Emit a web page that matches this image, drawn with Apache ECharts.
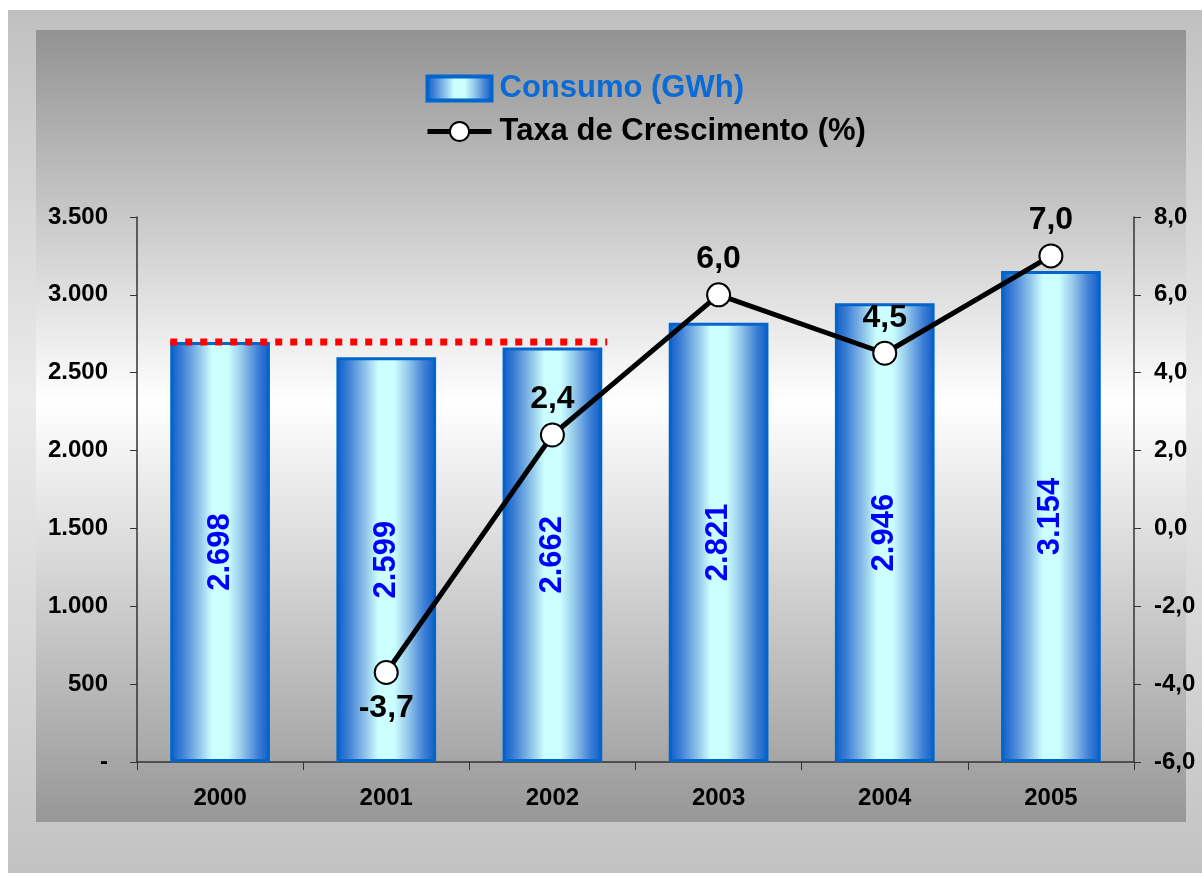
<!DOCTYPE html>
<html lang="pt">
<head>
    <meta charset="utf-8">
    <title>Consumo (GWh)</title>
    <script src="https://cdn.jsdelivr.net/npm/echarts@6/dist/echarts.min.js"></script>
    <style>
        html, body {margin: 0; padding: 0; background: #fff;}
        #chart {width: 1202px; height: 873px;}
    </style>
</head>
<body>
<div id="chart"></div>
<script>
    // dados
    let anos = ['2000', '2001', '2002', '2003', '2004', '2005'];
    let consumo = [2698, 2599, 2662, 2821, 2946, 3154];
    let taxa = [null, -3.7, 2.4, 6.0, 4.5, 7.0];
    let linhaRefX = [-0.3, 2.33];   // do início de 2000 ao fim de 2002
    let linhaRefValor = 2698;

    let myChart = echarts.init(document.getElementById('chart'));

    const fonte = '"Liberation Sans", Arial, sans-serif';
    let barGrad = new echarts.graphic.LinearGradient(0, 0, 1, 0, [
        {offset: 0, color: '#0a5ec8'},
        {offset: 0.12, color: '#3f7fd6'},
        {offset: 0.3, color: '#94c8ea'},
        {offset: 0.42, color: '#ccffff'},
        {offset: 0.58, color: '#ccffff'},
        {offset: 0.72, color: '#94c8ea'},
        {offset: 0.88, color: '#3f7fd6'},
        {offset: 1, color: '#0a5ec8'}
    ]);

    let taxaData = taxa.map(function (v) {
        if (v !== null && v < 0) {
            return {value: v, label: {position: 'bottom'}};
        }
        return v;
    });

    let option = {
        animation: false,
        textStyle: {fontFamily: fonte},
        graphic: [
            {
                type: 'rect', z: -10, silent: true,
                shape: {x: 8, y: 10, width: 1194, height: 863},
                style: {
                    fill: new echarts.graphic.LinearGradient(0, 0, 0, 1, [
                        {offset: 0, color: '#c0c0c0'},
                        {offset: 0.45, color: '#ebebeb'},
                        {offset: 1, color: '#c2c2c2'}
                    ])
                }
            },
            {
                type: 'rect', z: -9, silent: true,
                shape: {x: 36, y: 30, width: 1150, height: 792},
                style: {
                    fill: new echarts.graphic.LinearGradient(0, 0, 0, 1, [
                        {offset: 0, color: '#929292'},
                        {offset: 0.47, color: '#ffffff'},
                        {offset: 1, color: '#979797'}
                    ])
                }
            }
        ],
        legend: {
            orient: 'vertical',
            left: 420,
            top: 68,
            itemWidth: 64,
            itemHeight: 24,
            itemGap: 12,
            data: [
                {
                    name: 'Consumo (GWh)',
                    icon: 'rect',
                    itemStyle: {borderWidth: 4, borderColor: '#0066cc'},
                    textStyle: {color: '#0a6ad6'}
                },
                {
                    name: 'Taxa de Crescimento (%)',
                    lineStyle: {width: 5, color: '#000'},
                    textStyle: {color: '#000'}
                }
            ],
            textStyle: {fontSize: 31, fontWeight: 'bold', fontFamily: fonte, padding: [0, 0, 0, 3]}
        },
        grid: {left: 137, right: 68, top: 217, bottom: 111},
        xAxis: [
            {
                type: 'category',
                data: anos,
                axisLine: {lineStyle: {color: '#333', width: 1.5}},
                axisTick: {show: true, length: 8, lineStyle: {color: '#333'}},
                axisLabel: {color: '#000', fontSize: 24, fontWeight: 'bold', margin: 24}
            },
            {
                type: 'value',
                min: -0.5,
                max: 5.5,
                show: false
            }
        ],
        yAxis: [
            {
                type: 'value',
                min: 0,
                max: 3500,
                interval: 500,
                splitLine: {show: false},
                axisLine: {show: true, onZero: false, lineStyle: {color: '#333', width: 1.5}},
                axisTick: {show: true, length: 7, lineStyle: {color: '#333'}},
                axisLabel: {
                    color: '#000', fontSize: 24, fontWeight: 'bold', margin: 29,
                    formatter: function (v) {
                        if (v === 0) return '-';
                        return v.toLocaleString('de-DE');
                    }
                }
            },
            {
                type: 'value',
                min: -6,
                max: 8,
                interval: 2,
                splitLine: {show: false},
                axisLine: {show: true, onZero: false, lineStyle: {color: '#333', width: 1.5}},
                axisTick: {show: true, length: 7, lineStyle: {color: '#333'}},
                axisLabel: {
                    color: '#000', fontSize: 24, fontWeight: 'bold', margin: 20,
                    formatter: function (v) {
                        return v.toFixed(1).replace('.', ',');
                    }
                }
            }
        ],
        series: [
            {
                name: 'Consumo (GWh)',
                type: 'bar',
                data: consumo,
                barWidth: '60%',
                itemStyle: {color: barGrad, borderColor: '#0066cc', borderWidth: 3},
                label: {
                    show: true,
                    position: 'inside',
                    rotate: 90,
                    color: '#0000ff',
                    fontSize: 31,
                    fontWeight: 'bold',
                    formatter: function (p) {
                        return p.value.toLocaleString('de-DE');
                    }
                },
                z: 2
            },
            {
                name: 'ref',
                type: 'line',
                xAxisIndex: 1,
                yAxisIndex: 0,
                data: linhaRefX.map(function (x) { return [x, linhaRefValor]; }),
                symbol: 'none',
                lineStyle: {color: '#ff0000', width: 7, type: [7, 8]},
                silent: true,
                z: 3
            },
            {
                name: 'Taxa de Crescimento (%)',
                type: 'line',
                yAxisIndex: 1,
                data: taxaData,
                symbol: 'circle',
                symbolSize: 23,
                itemStyle: {color: '#ffffff', borderColor: '#000', borderWidth: 2},
                lineStyle: {color: '#000', width: 5},
                label: {
                    show: true,
                    position: 'top',
                    distance: 7,
                    color: '#000',
                    fontSize: 32,
                    fontWeight: 'bold',
                    formatter: function (p) {
                        return p.value.toFixed(1).replace('.', ',');
                    }
                },
                z: 5
            }
        ]
    };
    myChart.setOption(option);
</script>
</body>
</html>
